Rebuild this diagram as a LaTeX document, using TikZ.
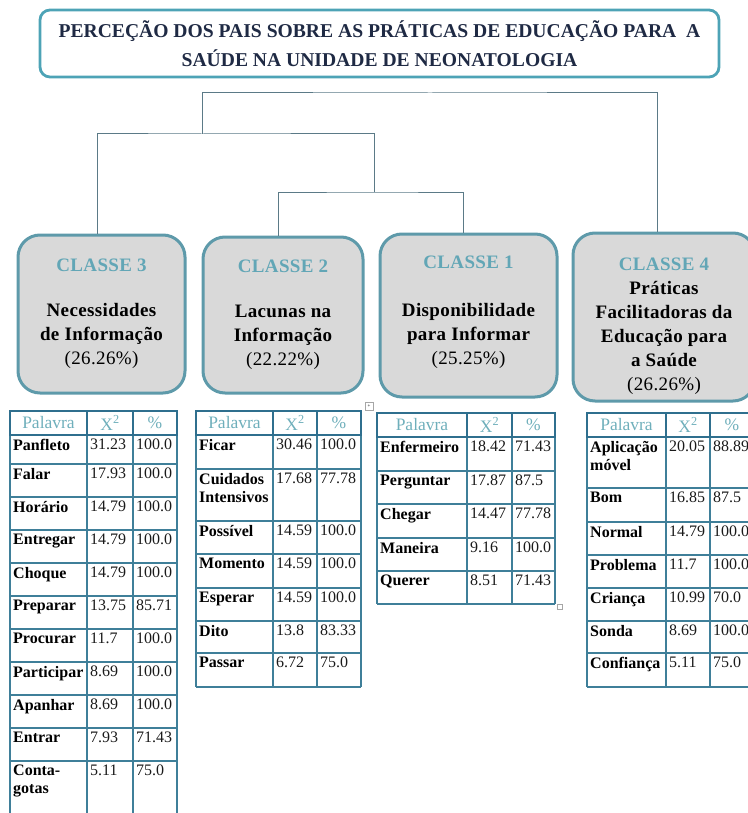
\documentclass[tikz,border=0pt]{standalone}
\usepackage{fontspec}
\setmainfont{Liberation Serif}
\usetikzlibrary{positioning}
\definecolor{titleblue}{HTML}{1F2A44}
\definecolor{frameteal}{HTML}{4DA3B6}
\definecolor{boxteal}{HTML}{5E9AAA}
\definecolor{boxgray}{HTML}{D9D9D9}
\definecolor{classteal}{HTML}{62A6B6}
\definecolor{headteal}{HTML}{6FAFBB}
\definecolor{headline}{HTML}{2F6F8E}
\definecolor{gridblue}{HTML}{3F7F99}
\definecolor{treeline}{HTML}{5B7A87}
\definecolor{numblack}{HTML}{1A1A1A}

\begin{document}
\begin{tikzpicture}[x=1pt, y=-1pt,
  titlebox/.style={draw=frameteal, line width=2.8pt, rounded corners=10pt, fill=white,
                   minimum width=679pt, minimum height=67pt, align=center, text=titleblue,
                   font=\fontsize{19.6}{29}\selectfont\bfseries},
  classbox/.style={draw=boxteal, line width=3pt, fill=boxgray, rounded corners=22pt},
  classtxt/.style={align=center, inner sep=0pt,
                   font=\fontsize{19}{24}\selectfont\bfseries\addfontfeature{LetterSpace=2}},
  tree/.style={draw=treeline, line width=1pt},
  headframe/.style={draw=headline, line width=2.6pt},
  headtxt/.style={text=headteal, font=\fontsize{17.5}{18}\selectfont, inner sep=0pt},
  grid/.style={draw=gridblue, line width=1.1pt},
  word/.style={anchor=north west, inner xsep=3pt, inner ysep=0pt, align=left,
               font=\fontsize{16}{18}\selectfont\bfseries},
  num/.style={anchor=north west, inner xsep=3pt, inner ysep=0pt, text=numblack,
              font=\fontsize{16}{18}\selectfont},
  handle/.style={draw=gray!70, line width=0.6pt, fill=white, inner sep=0pt}]
\useasboundingbox (0,0) rectangle (747,813);

% title
\node[titlebox] (title) at (379.5,43.5) {PERCEÇÃO DOS PAIS SOBRE AS PRÁTICAS DE EDUCAÇÃO PARA \ A\\
  SAÚDE NA UNIDADE DE NEONATOLOGIA};

% classes
\node[classbox, minimum width=167pt, minimum height=158pt] (cl3) at (101.5,314) {};
\node[classtxt] (t3) at (cl3.center)
  {\textcolor{classteal}{CLASSE 3}\\[21pt] Necessidades\\ de Informação\\ {\mdseries (26.26\%)}};
\node[classbox, minimum width=160pt, minimum height=156pt] (cl2) at (283,315) {};
\node[classtxt] (t2) at (cl2.center)
  {\textcolor{classteal}{CLASSE 2}\\[21pt] Lacunas na\\ Informação\\ {\mdseries (22.22\%)}};
\node[classbox, minimum width=177pt, minimum height=163pt] (cl1) at (468.5,315.5) {};
\node[classtxt] (t1) at ([yshift=3pt]cl1.center)
  {\textcolor{classteal}{CLASSE 1}\\[24pt] Disponibilidade\\ para Informar\\ {\mdseries (25.25\%)}};
\node[classbox, minimum width=182pt, minimum height=168pt] (cl4) at (664,317) {};
\node[classtxt] (t4) at ([yshift=-9pt]cl4.center)
  {\textcolor{classteal}{CLASSE 4}\\ Práticas\\ Facilitadoras da\\ Educação para\\ a Saúde\\
   {\mdseries (26.26\%)}};

% dendrogram
\coordinate (j12) at (374,192);
\coordinate (j123) at (202,134);
\coordinate (jroot) at (430,93);
\draw[tree] ([xshift=-5pt]cl2.north) |- (j12) -| ([xshift=-5.5pt]cl1.north);
\draw[tree] ([xshift=-4.5pt]cl3.north) |- (j123) -| (j12);
\draw[tree] (j123) |- (jroot) -| ([xshift=-7pt]cl4.north);

% table of class 3
\foreach \x in {10,87,133,177} \draw[grid] (\x,435) -- (\x,820);
\foreach \w/\c/\p/\ya/\yb [count=\i] in {Panfleto/31.23/100.0/435/464, Falar/17.93/100.0/464/497,
    Horário/14.79/100.0/497/530, Entregar/14.79/100.0/530/563, Choque/14.79/100.0/563/596,
    Preparar/13.75/85.71/596/629, Procurar/11.7/100.0/629/662, Participar/8.69/100.0/662/695,
    Apanhar/8.69/100.0/695/728, Entrar/7.93/71.43/728/761, {Conta-\\gotas}/5.11/75.0/761/820}{
  \draw[grid] (10,\yb) -- (177,\yb);
  \node[word] (w3-\i) at (10,\ya+4) {\w};
  \node[num] (x3-\i) at (87,\ya+4) {\c};
  \node[num] (p3-\i) at (133,\ya+4) {\p};
}
\foreach \xa/\xb/\t [count=\k] in {10/87/Palavra, 87/133/{X\textsuperscript{2}}, 133/177/\%}{
  \draw[headframe] (\xa,411) rectangle (\xb,435);
  \node[headtxt] (h3-\k) at ({(\xa+\xb)/2},423) {\t};
}

% table of class 2
\foreach \x in {196,273,317,361} \draw[grid] (\x,435) -- (\x,687);
\foreach \w/\c/\p/\ya/\yb [count=\i] in {Ficar/30.46/100.0/435/469,
    {Cuidados\\Intensivos}/17.68/77.78/469/521, Possível/14.59/100.0/521/554,
    Momento/14.59/100.0/554/588, Esperar/14.59/100.0/588/621, Dito/13.8/83.33/621/653,
    Passar/6.72/75.0/653/687}{
  \draw[grid] (196,\yb) -- (361,\yb);
  \node[word] (w2-\i) at (196,\ya+4) {\w};
  \node[num] (x2-\i) at (273,\ya+4) {\c};
  \node[num] (p2-\i) at (317,\ya+4) {\p};
}
\foreach \xa/\xb/\t [count=\k] in {196/273/Palavra, 273/317/{X\textsuperscript{2}}, 317/361/\%}{
  \draw[headframe] (\xa,411) rectangle (\xb,435);
  \node[headtxt] (h2-\k) at ({(\xa+\xb)/2},423) {\t};
}

% table of class 1
\foreach \x in {377,467,512,555} \draw[grid] (\x,437) -- (\x,604);
\foreach \w/\c/\p/\ya/\yb [count=\i] in {Enfermeiro/18.42/71.43/437/471,
    Perguntar/17.87/87.5/471/504, Chegar/14.47/77.78/504/538, Maneira/9.16/100.0/538/571,
    Querer/8.51/71.43/571/604}{
  \draw[grid] (377,\yb) -- (555,\yb);
  \node[word] (w1-\i) at (377,\ya+4) {\w};
  \node[num] (x1-\i) at (467,\ya+4) {\c};
  \node[num] (p1-\i) at (512,\ya+4) {\p};
}
\foreach \xa/\xb/\t [count=\k] in {377/467/Palavra, 467/512/{X\textsuperscript{2}}, 512/555/\%}{
  \draw[headframe] (\xa,413) rectangle (\xb,437);
  \node[headtxt] (h1-\k) at ({(\xa+\xb)/2},425) {\t};
}
\node[handle, minimum size=8pt] (move) at (369,406) {\tiny +};
\node[handle, minimum size=5pt] (resize) at (560,607) {};

% table of class 4
\foreach \x in {587,666,710,754} \draw[grid] (\x,437) -- (\x,687);
\foreach \w/\c/\p/\ya/\yb [count=\i] in {{Aplicação\\móvel}/20.05/88.89/437/488,
    Bom/16.85/87.5/488/522, Normal/14.79/100.0/522/555, Problema/11.7/100.0/555/588,
    Criança/10.99/70.0/588/621, Sonda/8.69/100.0/621/653, Confiança/5.11/75.0/653/687}{
  \draw[grid] (587,\yb) -- (754,\yb);
  \node[word] (w4-\i) at (587,\ya+4) {\w};
  \node[num] (x4-\i) at (666,\ya+4) {\c};
  \node[num] (p4-\i) at (710,\ya+4) {\p};
}
\foreach \xa/\xb/\t [count=\k] in {587/666/Palavra, 666/710/{X\textsuperscript{2}}, 710/754/\%}{
  \draw[headframe] (\xa,413) rectangle (\xb,437);
  \node[headtxt] (h4-\k) at ({(\xa+\xb)/2},425) {\t};
}
\end{tikzpicture}
\end{document}
